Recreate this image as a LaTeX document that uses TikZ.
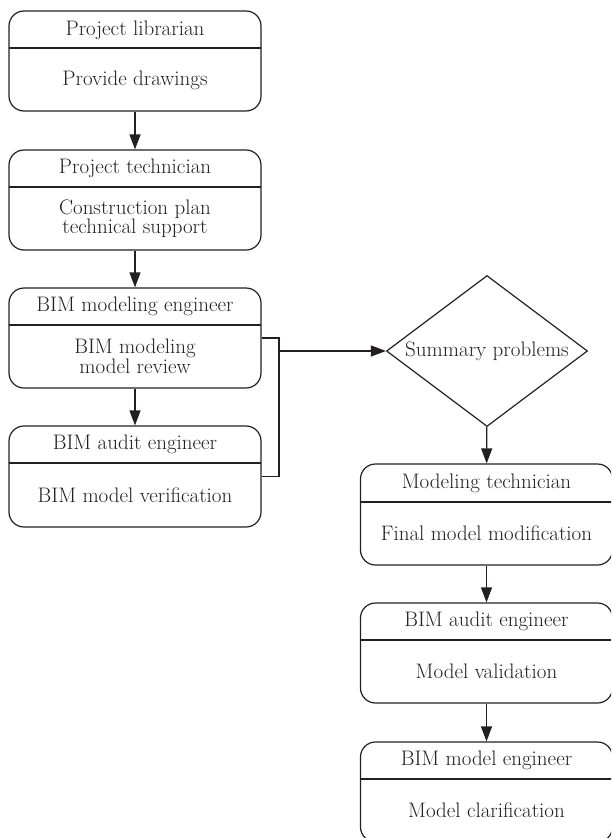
\documentclass[tikz,border=0pt]{standalone}
\usetikzlibrary{arrows.meta,shapes.geometric}
\definecolor{ink}{HTML}{231F20}
\begin{document}
\begin{tikzpicture}[x=1pt,y=-1pt,
  box/.style={draw=ink,line width=1.2pt,rounded corners=15pt,minimum width=252pt,inner sep=0pt},
  lbl/.style={text=ink,font=\fontsize{21}{19.5}\selectfont,align=center,inner sep=0pt},
  divline/.style={draw=ink,line width=1.2pt},
  arr/.style={draw=ink,line width=1.2pt,-{Triangle[length=15pt,width=11pt]}},
  conn/.style={draw=ink,line width=1.2pt}]
\useasboundingbox (0,0) rectangle (611,838);
\begin{scope}
\clip (0,0) rectangle (611,838);
% left column
\node[box,minimum height=100pt] (b1) at (135,61) {};
\node[box,minimum height=100pt] (b2) at (135,200) {};
\node[box,minimum height=100pt] (b3) at (135,338) {};
\node[box,minimum height=101pt] (b4) at (135,476.5) {};
% right column
\node[box,minimum height=101pt] (b5) at (486.5,514.5) {};
\node[box,minimum height=100pt] (b6) at (486.5,653) {};
\node[box,minimum height=100pt] (b7) at (486.5,792) {};
% dividers
\coordinate (d1l) at (9,48);   \coordinate (d1r) at (261,48);
\coordinate (d2l) at (9,187);  \coordinate (d2r) at (261,187);
\coordinate (d3l) at (9,325);  \coordinate (d3r) at (261,325);
\coordinate (d4l) at (9,463);  \coordinate (d4r) at (261,463);
\coordinate (d5l) at (360.5,502); \coordinate (d5r) at (612.5,502);
\coordinate (d6l) at (360.5,640); \coordinate (d6r) at (612.5,640);
\coordinate (d7l) at (360.5,779); \coordinate (d7r) at (612.5,779);
\foreach \i in {1,...,7} {\draw[divline] (d\i l) -- (d\i r);}
% texts
\node[lbl] (h1) at (135,30) {Project librarian};
\node[lbl] (t1) at (135,80) {Provide drawings};
\node[lbl] (h2) at (135,168.5) {Project technician};
\node[lbl] (t2) at (135,218.5) {Construction plan\\technical support};
\node[lbl] (h3) at (135,306.5) {BIM modeling engineer};
\node[lbl] (t3) at (135,356.5) {BIM modeling\\model review};
\node[lbl] (h4) at (135,444.5) {BIM audit engineer};
\node[lbl] (t4) at (135,495) {BIM model verification};
\node[lbl] (h5) at (486.5,483) {Modeling technician};
\node[lbl] (t5) at (486.5,533.5) {Final model modification};
\node[lbl] (h6) at (486.5,621.5) {BIM audit engineer};
\node[lbl] (t6) at (486.5,671.5) {Model validation};
\node[lbl] (h7) at (486.5,760.5) {BIM model engineer};
\node[lbl] (t7) at (486.5,810) {Model clarification};
% diamond
\node[diamond,draw=ink,line width=1.2pt,minimum width=201pt,minimum height=151pt,inner sep=0pt] (dm) at (487,351) {};
\node[lbl] (dmt) at (dm.center) {Summary problems};
% connectors
\draw[arr] (b1) -- (b2);
\draw[arr] (b2) -- (b3);
\draw[arr] (b3) -- (b4);
\draw[arr] (dm) -- (b5);
\draw[arr] (b5) -- (b6);
\draw[arr] (b6) -- (b7);
\coordinate (bk) at (279,338);
\draw[conn] (b3.east) -- (bk) |- (b4.east);
\coordinate (j) at (279,351);
\draw[arr] (j) -- (dm.west);
\end{scope}
\end{tikzpicture}
\end{document}
